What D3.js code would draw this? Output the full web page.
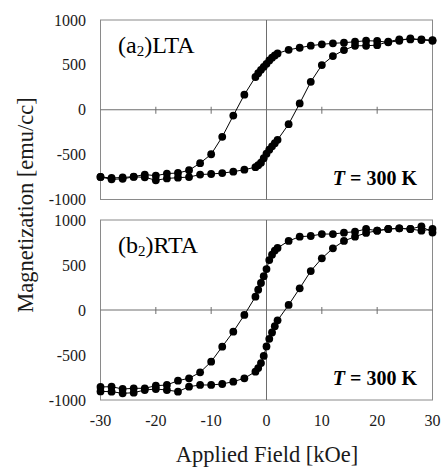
<!DOCTYPE html>
<html><head><meta charset="utf-8">
<script src="https://cdn.jsdelivr.net/npm/d3@7"></script>
<style>
html,body{margin:0;padding:0;background:#fff;}
svg{display:block;}
svg text{font-family:"Liberation Serif","Times New Roman",Times,serif;}
</style></head>
<body><svg id="chart" width="442" height="467" font-family="Liberation Serif"></svg>
<script>
// Field grid (kOe): descending branch and ascending branch
const fieldDown = [30,28,26,24,22,20,18,16,14,12,10,8,6,4,2,1.5,1,0.5,0,-0.5,-1,-1.5,-2,-4,-6,-8,-10,-12,-14,-16,-18,-20,-22,-24,-26,-28,-30];
const fieldUp = [-30,-28,-26,-24,-22,-20,-18,-16,-14,-12,-10,-8,-6,-4,-2,-1.5,-1,-0.5,0,0.5,1,1.5,2,4,6,8,10,12,14,16,18,20,22,24,26,28,30];

// (a2) LTA magnetization (emu/cc)
const ltaDown = [769,777,796,769,751,766,769,758,747,740,729,714,691,668,628,605,580,550,512,478,445,408,365,168,-65,-302,-496,-595,-674,-705,-711,-735,-722,-745,-755,-760,-749];
const ltaUp = [-749,-775,-770,-748,-752,-786,-765,-757,-750,-722,-716,-706,-690,-668,-640,-618,-590,-540,-490,-445,-408,-372,-335,-161,70,311,498,598,665,713,713,720,758,784,784,784,775];

// (b2) RTA magnetization (emu/cc)
const rtaDown = [900,881,900,907,900,881,900,870,859,844,844,822,815,767,690,660,615,555,455,375,300,225,148,-55,-241,-407,-574,-693,-759,-785,-833,-841,-870,-870,-878,-852,-855];
const rtaUp = [-905,-907,-926,-919,-889,-878,-889,-907,-852,-833,-833,-822,-796,-759,-685,-645,-590,-510,-405,-320,-250,-180,-115,56,241,433,574,685,767,815,856,881,900,907,900,930,860];

const xTicks = [-30,-20,-10,0,10,20,30];
const yTicks = [-1000,-500,0,500,1000];
const panelLabels = [["(a","2",")LTA"],["(b","2",")RTA"]];

const FONT = "Liberation Serif, Times New Roman, serif";
const svg = d3.select("#chart");
const x = d3.scaleLinear().domain([-30,30]).range([100.5,432.5]);
const panels = [
  {y: d3.scaleLinear().domain([-1000,1000]).range([199.5,20]), down: ltaDown, up: ltaUp, label: panelLabels[0]},
  {y: d3.scaleLinear().domain([-1000,1000]).range([400,220]), down: rtaDown, up: rtaUp, label: panelLabels[1]}
];

panels.forEach((p, i) => {
  const g = svg.append("g");
  const [y0, y1] = p.y.range();
  g.append("rect").attr("x", x(-30)).attr("y", y1).attr("width", x(30)-x(-30)).attr("height", y0-y1)
    .attr("fill","none").attr("stroke","#8a8a8a").attr("stroke-width",1);
  g.append("line").attr("x1", x(-30)).attr("x2", x(30)).attr("y1", p.y(0)).attr("y2", p.y(0))
    .attr("stroke","#6e6e6e").attr("stroke-width",1);
  g.append("line").attr("x1", x(0)).attr("x2", x(0)).attr("y1", y1).attr("y2", y0)
    .attr("stroke","#6e6e6e").attr("stroke-width",1);
  g.selectAll(".tk").data(xTicks.filter(t => t!==0 && Math.abs(t)!==30)).enter().append("line")
    .attr("x1", d=>x(d)).attr("x2", d=>x(d)).attr("y1", p.y(0)-3).attr("y2", p.y(0)+4)
    .attr("stroke","#6e6e6e").attr("stroke-width",1);
  g.selectAll(".yl").data(yTicks).enter().append("text")
    .attr("x", 86).attr("y", d=>p.y(d)).attr("dy","0.35em").attr("text-anchor","end")
    .attr("font-family", FONT).attr("font-size","16px").attr("fill","#1a1a1a").text(d=>d);
  const line = d3.line().x(d=>x(d[0])).y(d=>p.y(d[1]));
  const down = fieldDown.map((h,k)=>[h,p.down[k]]);
  const up = fieldUp.map((h,k)=>[h,p.up[k]]);
  [down, up].forEach(s => {
    g.append("path").attr("d", line(s)).attr("fill","none").attr("stroke","#000").attr("stroke-width",1);
  });
  [down, up].forEach(s => {
    g.selectAll(null).data(s).enter().append("circle")
      .attr("cx", d=>x(d[0])).attr("cy", d=>p.y(d[1])).attr("r", 3.9).attr("fill","#000");
  });
  const t = g.append("text").attr("x", 118).attr("y", y1+33).attr("font-family", FONT)
    .attr("font-size","24px").attr("fill","#000");
  t.append("tspan").text(p.label[0]);
  t.append("tspan").attr("font-size","15px").attr("dy","3").text(p.label[1]);
  t.append("tspan").attr("dy","-3").text(p.label[2]);
  const tt = g.append("text").attr("x", 417).attr("y", y0-15).attr("text-anchor","end").attr("font-family", FONT)
    .attr("font-size","20px").attr("font-weight","bold").attr("fill","#000");
  tt.append("tspan").attr("font-style","italic").text("T");
  tt.append("tspan").text(" = 300 K");
});

svg.selectAll(".xl").data(xTicks).enter().append("text")
  .attr("x", d=>x(d)).attr("y", 426).attr("text-anchor","middle").attr("font-family", FONT)
  .attr("font-size","16px").attr("fill","#1a1a1a").text(d=>d);

svg.append("text").attr("x", 267).attr("y", 462).attr("text-anchor","middle").attr("font-family", FONT)
  .attr("font-size","22.5px").attr("fill","#1a1a1a").text("Applied Field [kOe]");
svg.append("text").attr("transform","translate(33,205) rotate(-90)").attr("text-anchor","middle").attr("font-family", FONT)
  .attr("font-size","22.5px").attr("fill","#1a1a1a").text("Magnetization [emu/cc]");
</script>
</body></html>
